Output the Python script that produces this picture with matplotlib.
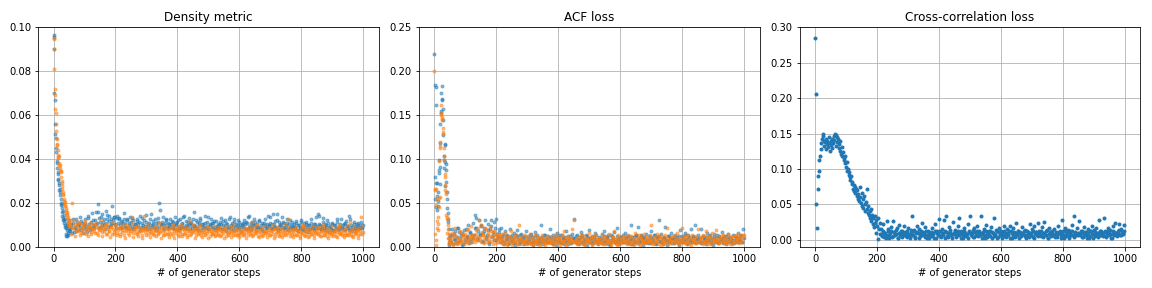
import matplotlib
matplotlib.use("Agg")
import matplotlib.pyplot as plt

# x positions (generator steps)
steps_early = list(range(0, 52))
steps_tail = list(range(52, 1000, 4))
steps_tail_b = list(range(54, 1000, 4))
cc_steps_early = list(range(0, 212, 2))
cc_steps_tail = list(range(212, 1000, 4))
cc_steps_tail_b = list(range(214, 1000, 4))

# ---------------- Density metric ----------------
density_blue_early = [
    .0965, .0958, .0900, .0700, .0668, .0560, .0515, .0495, .0430, .0452,
    .0390, .0360, .0380, .0340, .0330, .0310, .0305, .0290, .0280, .0260,
    .0250, .0262, .0235, .0220, .0200, .0190, .0175, .0195, .0160, .0140,
    .0165, .0130, .0120, .0145, .0110, .0120, .0100, .0090, .0125, .0085,
    .0060, .0050, .0110, .0048, .0095, .0075, .0055, .0100, .0065, .0088,
    .0070, .0120]
density_blue_tail = [
    .0080, .0105, .0062, .0125, .0090, .0070, .0115, .0098, .0135, .0075, .0110, .0085, .0128, .0095, .0068, .0140, .0102, .0088, .0155, .0120,
    .0095, .0160, .0110, .0195, .0130, .0085, .0150, .0115, .0100, .0165, .0125, .0090, .0140, .0105, .0185, .0120, .0135, .0098, .0142, .0110,
    .0130, .0088, .0118, .0102, .0155, .0092, .0125, .0080, .0110, .0136, .0095, .0120, .0085, .0105, .0128, .0090, .0115, .0078, .0132, .0100,
    .0120, .0088, .0145, .0095, .0110, .0082, .0150, .0105, .0092, .0125, .0078, .0115, .0199, .0168, .0098, .0135, .0088, .0110, .0120, .0085,
    .0105, .0128, .0090, .0115, .0082, .0138, .0098, .0112, .0075, .0125, .0092, .0108, .0140, .0085, .0118, .0095, .0130, .0080, .0112, .0100,
    .0158, .0095, .0120, .0085, .0110, .0132, .0078, .0105, .0092, .0140, .0088, .0115, .0080, .0102, .0125, .0090, .0108, .0075, .0118, .0095,
    .0085, .0112, .0130, .0080, .0098, .0120, .0072, .0105, .0090, .0138, .0082, .0110, .0095, .0125, .0078, .0100, .0088, .0115, .0070, .0102,
    .0095, .0120, .0082, .0108, .0135, .0090, .0075, .0112, .0098, .0128, .0085, .0105, .0092, .0118, .0080, .0110, .0072, .0100, .0125, .0088,
    .0140, .0095, .0138, .0082, .0150, .0105, .0090, .0120, .0078, .0112, .0098, .0135, .0085, .0108, .0092, .0125, .0075, .0102, .0088, .0115,
    .0080, .0105, .0092, .0118, .0070, .0098, .0085, .0122, .0078, .0108, .0090, .0112, .0068, .0100, .0082, .0128, .0095, .0075, .0105, .0088,
    .0150, .0140, .0098, .0082, .0112, .0075, .0105, .0090, .0120, .0068, .0095, .0080, .0108, .0072, .0100, .0085, .0115, .0078, .0092, .0128,
    .0088, .0105, .0075, .0118, .0095, .0140, .0082, .0100, .0070, .0112, .0090, .0078, .0105, .0085, .0098, .0115, .0092]
density_blue_tail_b = [
    .0072, .0095, .0110, .0068, .0088, .0125, .0078, .0102, .0090, .0118, .0065, .0098, .0108, .0082, .0130, .0092, .0075, .0112, .0100, .0085,
    .0120, .0105, .0160, .0090, .0112, .0135, .0098, .0125, .0082, .0108, .0145, .0118, .0095, .0128, .0110, .0138, .0102, .0088, .0132, .0125,
    .0098, .0115, .0085, .0128, .0108, .0092, .0120, .0100, .0088, .0112, .0132, .0082, .0105, .0095, .0118, .0102, .0140, .0090, .0110, .0085,
    .0095, .0112, .0080, .0105, .0128, .0090, .0100, .0118, .0085, .0108, .0095, .0132, .0088, .0102, .0115, .0082, .0098, .0125, .0092, .0108,
    .0090, .0102, .0118, .0085, .0098, .0110, .0080, .0122, .0095, .0088, .0105, .0135, .0092, .0100, .0082, .0115, .0098, .0108, .0088, .0125,
    .0100, .0088, .0112, .0078, .0098, .0120, .0090, .0102, .0085, .0110, .0095, .0138, .0082, .0098, .0108, .0088, .0118, .0092, .0080, .0105,
    .0098, .0088, .0105, .0118, .0082, .0095, .0110, .0085, .0128, .0092, .0100, .0078, .0112, .0090, .0105, .0120, .0085, .0098, .0092, .0108,
    .0088, .0102, .0115, .0080, .0140, .0095, .0108, .0085, .0098, .0112, .0078, .0092, .0120, .0088, .0100, .0082, .0110, .0095, .0085, .0105,
    .0098, .0110, .0085, .0102, .0092, .0118, .0088, .0148, .0095, .0082, .0105, .0090, .0112, .0080, .0098, .0108, .0085, .0120, .0092, .0100,
    .0092, .0085, .0110, .0078, .0100, .0088, .0115, .0082, .0095, .0072, .0105, .0088, .0098, .0080, .0110, .0092, .0085, .0102, .0135, .0095,
    .0088, .0102, .0080, .0095, .0130, .0085, .0098, .0078, .0110, .0090, .0082, .0105, .0075, .0098, .0088, .0125, .0080, .0092, .0102, .0085,
    .0098, .0080, .0110, .0088, .0095, .0075, .0128, .0090, .0082, .0102, .0085, .0095, .0110, .0080, .0092, .0088, .0100]

density_orange_early = [
    .0950, .0948, .0900, .0810, .0720, .0690, .0630, .0610, .0560, .0530,
    .0490, .0470, .0465, .0440, .0420, .0410, .0405, .0412, .0380, .0375,
    .0375, .0360, .0350, .0340, .0345, .0320, .0300, .0290, .0275, .0265,
    .0250, .0240, .0235, .0220, .0210, .0200, .0205, .0190, .0185, .0170,
    .0160, .0175, .0150, .0145, .0160, .0130, .0120, .0135, .0110, .0100,
    .0115, .0095]
density_orange_tail = [
    .0095, .0120, .0200, .0085, .0105, .0072, .0098, .0080, .0110, .0065, .0090, .0078, .0102, .0060, .0088, .0075, .0095, .0068, .0082, .0105,
    .0070, .0092, .0062, .0085, .0078, .0100, .0066, .0088, .0074, .0095, .0060, .0082, .0072, .0090, .0058, .0080, .0068, .0098, .0064, .0076,
    .0085, .0060, .0078, .0092, .0055, .0072, .0088, .0065, .0080, .0070, .0135, .0062, .0076, .0090, .0058, .0074, .0068, .0084, .0052, .0078,
    .0140, .0066, .0080, .0058, .0072, .0088, .0062, .0076, .0054, .0070, .0085, .0060, .0074, .0066, .0092, .0056, .0078, .0064, .0082, .0058,
    .0072, .0060, .0086, .0055, .0070, .0080, .0062, .0075, .0050, .0068, .0090, .0058, .0076, .0064, .0082, .0054, .0070, .0118, .0060, .0074,
    .0066, .0080, .0056, .0072, .0062, .0088, .0052, .0068, .0076, .0058, .0070, .0064, .0084, .0050, .0072, .0060, .0078, .0056, .0066, .0074,
    .0060, .0076, .0054, .0070, .0064, .0082, .0050, .0068, .0058, .0074, .0062, .0090, .0055, .0066, .0072, .0052, .0078, .0060, .0068, .0056,
    .0074, .0058, .0066, .0080, .0052, .0070, .0062, .0112, .0056, .0072, .0064, .0078, .0050, .0068, .0060, .0076, .0054, .0066, .0072, .0058,
    .0066, .0078, .0054, .0070, .0060, .0082, .0050, .0068, .0074, .0056, .0064, .0086, .0052, .0072, .0058, .0068, .0125, .0062, .0076, .0054,
    .0070, .0058, .0080, .0052, .0066, .0074, .0048, .0062, .0090, .0056, .0070, .0060, .0078, .0050, .0066, .0058, .0072, .0054, .0068, .0062,
    .0058, .0074, .0050, .0066, .0080, .0054, .0064, .0070, .0048, .0062, .0076, .0056, .0068, .0060, .0072, .0050, .0066, .0100, .0058, .0064,
    .0070, .0054, .0062, .0080, .0056, .0068, .0112, .0060, .0050, .0074, .0058, .0066, .0082, .0054, .0072, .0135, .0060]
density_orange_tail_b = [
    .0105, .0060, .0088, .0122, .0048, .0095, .0070, .0112, .0055, .0085, .0100, .0062, .0118, .0075, .0050, .0092, .0108, .0058, .0082, .0098,
    .0065, .0110, .0052, .0088, .0075, .0120, .0048, .0082, .0098, .0060, .0105, .0072, .0045, .0090, .0115, .0058, .0078, .0100, .0055, .0085,
    .0048, .0092, .0066, .0105, .0042, .0078, .0098, .0055, .0085, .0070, .0110, .0045, .0080, .0062, .0095, .0050, .0088, .0072, .0040, .0082,
    .0090, .0052, .0075, .0102, .0044, .0068, .0088, .0058, .0096, .0048, .0078, .0064, .0108, .0042, .0072, .0086, .0054, .0094, .0060, .0080,
    .0046, .0084, .0062, .0098, .0040, .0076, .0090, .0055, .0070, .0104, .0048, .0082, .0058, .0092, .0044, .0074, .0088, .0052, .0066, .0100,
    .0078, .0042, .0090, .0060, .0074, .0100, .0046, .0068, .0085, .0054, .0096, .0040, .0072, .0088, .0058, .0064, .0094, .0048, .0080, .0056,
    .0092, .0050, .0070, .0086, .0042, .0078, .0096, .0056, .0066, .0090, .0044, .0074, .0102, .0052, .0082, .0060, .0046, .0088, .0068, .0076,
    .0054, .0086, .0040, .0072, .0096, .0058, .0080, .0048, .0092, .0064, .0076, .0100, .0044, .0070, .0084, .0050, .0094, .0062, .0074, .0046,
    .0088, .0056, .0070, .0098, .0042, .0080, .0062, .0092, .0050, .0074, .0086, .0046, .0066, .0104, .0054, .0078, .0090, .0048, .0068, .0082,
    .0044, .0076, .0092, .0056, .0070, .0040, .0084, .0062, .0098, .0050, .0074, .0088, .0046, .0066, .0080, .0058, .0094, .0042, .0072, .0086,
    .0060, .0090, .0048, .0074, .0100, .0054, .0068, .0084, .0042, .0078, .0062, .0096, .0050, .0072, .0088, .0046, .0080, .0064, .0092, .0056,
    .0076, .0044, .0088, .0060, .0098, .0052, .0070, .0082, .0046, .0092, .0064, .0074, .0040, .0086, .0058, .0096, .0068]

# ---------------- ACF loss ----------------
acf_blue_early = [
    .220, .184, .055, .080, .182, .162, .045, .073, .073, .042,
    .058, .052, .062, .046, .084, .088, .099, .071, .091, .118,
    .140, .155, .152, .175, .167, .168, .183, .157, .145, .127,
    .099, .104, .090, .116, .097, .069, .117, .074, .094, .087,
    .063, .055, .044, .038, .032, .028, .004, .010, .002, .020,
    .007, .013]
acf_blue_tail = [
    .012, .020, .003, .015, .008, .021, .005, .017, .010, .002, .014, .019, .006, .011, .025, .004, .016, .009, .027, .013,
    .036, .022, .008, .030, .015, .024, .005, .018, .030, .011, .026, .003, .020, .030, .013, .008, .022, .032, .010, .017,
    .006, .021, .012, .003, .018, .009, .014, .004, .020, .011, .007, .016, .002, .013, .019, .008, .005, .015, .010, .003,
    .012, .018, .006, .009, .004, .015, .011, .002, .017, .008, .013, .005, .010, .025, .007, .003, .014, .009, .006, .012,
    .020, .008, .004, .013, .010, .002, .016, .007, .011, .005, .014, .009, .003, .018, .006, .012, .008, .004, .015, .010,
    .032, .006, .013, .009, .003, .017, .011, .005, .008, .014, .002, .010, .019, .006, .012, .004, .009, .016, .007, .003,
    .011, .005, .015, .008, .018, .004, .010, .013, .006, .002, .012, .009, .017, .005, .022, .008, .003, .011, .007, .014,
    .006, .016, .010, .004, .012, .008, .025, .003, .011, .007, .014, .023, .005, .009, .013, .002, .010, .006, .015, .008,
    .012, .004, .018, .009, .006, .013, .003, .011, .030, .007, .015, .005, .010, .023, .008, .002, .012, .006, .016, .009,
    .004, .014, .008, .011, .002, .019, .007, .012, .005, .016, .009, .003, .013, .008, .020, .006, .011, .025, .004, .010,
    .014, .007, .020, .005, .011, .009, .003, .016, .008, .012, .006, .010, .002, .015, .007, .013, .004, .011, .009, .017,
    .006, .012, .003, .010, .015, .007, .009, .004, .013, .008, .011, .005, .016, .009, .012, .006, .020]
acf_blue_tail_b = [
    .006, .014, .009, .018, .004, .011, .022, .007, .013, .016, .003, .009, .020, .012, .008, .017, .005, .014, .010, .021,
    .033, .010, .018, .013, .025, .007, .016, .021, .009, .014, .019, .006, .024, .011, .017, .028, .008, .015, .012, .020,
    .010, .007, .015, .005, .012, .009, .003, .011, .008, .014, .004, .010, .006, .012, .009, .003, .013, .007, .011, .005,
    .008, .004, .011, .007, .013, .005, .009, .006, .012, .003, .010, .007, .004, .011, .008, .013, .005, .009, .006, .010,
    .006, .011, .003, .009, .007, .012, .005, .008, .013, .004, .010, .006, .011, .008, .003, .009, .012, .006, .010, .007,
    .009, .012, .004, .008, .011, .006, .013, .003, .009, .007, .012, .005, .010, .008, .004, .011, .007, .013, .005, .009,
    .007, .010, .004, .012, .006, .009, .011, .003, .008, .013, .005, .010, .007, .004, .012, .009, .006, .011, .008, .005,
    .010, .007, .012, .005, .009, .003, .011, .008, .006, .013, .004, .010, .007, .012, .005, .009, .011, .006, .008, .004,
    .008, .011, .005, .009, .013, .004, .010, .007, .012, .006, .009, .003, .011, .008, .005, .012, .007, .010, .004, .009,
    .011, .006, .009, .004, .012, .008, .005, .010, .007, .013, .004, .009, .011, .006, .008, .012, .005, .010, .007, .009,
    .006, .010, .004, .012, .008, .005, .011, .007, .009, .013, .004, .008, .011, .006, .010, .005, .012, .007, .009, .004,
    .010, .007, .012, .005, .009, .011, .006, .008, .004, .012, .007, .010, .005, .009, .013, .006, .010]

acf_orange_early = [
    .200, .015, .066, .065, .048, .008, .066, .002, .055, .029,
    .021, .026, .019, .034, .045, .056, .098, .119, .115, .113,
    .057, .150, .153, .162, .146, .148, .144, .135, .128, .131,
    .113, .103, .099, .083, .080, .070, .065, .063, .060, .036,
    .034, .016, .032, .025, .010, .020, .006, .015, .003, .009,
    .012, .004]
acf_orange_tail = [
    .008, .016, .002, .012, .021, .006, .010, .004, .018, .009, .013, .003, .015, .007, .020, .011, .005, .024, .009, .014,
    .006, .019, .011, .030, .008, .025, .013, .004, .021, .010, .016, .007, .023, .012, .003, .018, .009, .014, .006, .011,
    .008, .013, .004, .010, .016, .006, .002, .012, .009, .018, .005, .011, .007, .014, .003, .025, .008, .010, .006, .013,
    .004, .009, .012, .006, .015, .003, .010, .007, .013, .005, .008, .011, .002, .009, .014, .006, .010, .004, .012, .007,
    .009, .005, .012, .003, .010, .015, .006, .008, .011, .004, .013, .007, .018, .002, .009, .012, .005, .010, .020, .006,
    .030, .008, .004, .011, .006, .014, .009, .003, .012, .007, .010, .005, .016, .008, .002, .011, .006, .013, .009, .004,
    .010, .006, .013, .003, .009, .012, .005, .008, .015, .004, .011, .007, .018, .009, .002, .013, .006, .010, .004, .012,
    .007, .011, .004, .014, .008, .003, .012, .006, .010, .016, .005, .009, .013, .002, .011, .007, .015, .004, .010, .008,
    .006, .013, .025, .009, .004, .011, .007, .015, .003, .010, .012, .005, .008, .014, .006, .022, .009, .004, .011, .007,
    .012, .005, .009, .016, .003, .010, .007, .022, .006, .011, .004, .013, .008, .010, .002, .014, .009, .006, .012, .005,
    .020, .008, .011, .004, .013, .007, .018, .009, .003, .012, .006, .016, .010, .005, .019, .008, .012, .004, .010, .007,
    .013, .006, .010, .004, .015, .008, .011, .003, .012, .007, .014, .009, .005, .013, .010, .006, .014]
acf_orange_tail_b = [
    .004, .010, .015, .006, .012, .003, .009, .017, .007, .013, .005, .011, .008, .019, .004, .010, .014, .006, .012, .009,
    .015, .008, .022, .011, .006, .017, .013, .009, .020, .005, .014, .010, .018, .007, .012, .016, .004, .013, .009, .015,
    .005, .009, .003, .007, .011, .004, .008, .006, .010, .002, .007, .012, .005, .009, .004, .008, .011, .003, .007, .006,
    .007, .003, .009, .005, .006, .010, .002, .008, .004, .007, .011, .003, .006, .009, .005, .008, .002, .007, .010, .004,
    .005, .008, .003, .007, .010, .004, .006, .009, .002, .008, .005, .007, .011, .003, .006, .009, .004, .008, .005, .007,
    .006, .009, .003, .007, .005, .010, .004, .008, .002, .006, .009, .005, .007, .011, .003, .008, .006, .004, .009, .005,
    .008, .004, .007, .010, .003, .006, .009, .005, .007, .002, .008, .011, .004, .006, .009, .003, .007, .010, .005, .008,
    .005, .009, .003, .007, .011, .004, .006, .008, .002, .010, .005, .007, .003, .009, .006, .004, .008, .011, .005, .007,
    .009, .004, .007, .003, .010, .006, .008, .005, .011, .002, .007, .009, .004, .006, .010, .003, .008, .005, .007, .012,
    .004, .008, .006, .010, .003, .007, .005, .009, .012, .004, .006, .008, .003, .010, .005, .007, .009, .004, .011, .006,
    .008, .005, .010, .003, .007, .012, .004, .009, .006, .011, .003, .008, .005, .010, .007, .004, .009, .006, .012, .005,
    .009, .004, .011, .006, .008, .003, .010, .007, .005, .012, .006, .009, .004, .011, .007, .010, .013]

# ---------------- Cross-correlation loss ----------------
cc_early = [
    .285, .206, .050, .017, .072, .090, .097, .112, .118, .128,
    .136, .142, .150, .147, .140, .133, .138, .143, .128, .135,
    .140, .131, .145, .137, .126, .134, .139, .130, .142, .136,
    .146, .141, .150, .133, .148, .145, .138, .143, .135, .130,
    .139, .126, .121, .131, .118, .124, .115, .112, .118, .108,
    .103, .110, .097, .100, .092, .095, .088, .085, .090, .079,
    .082, .072, .078, .069, .074, .066, .072, .062, .070, .058,
    .064, .055, .075, .060, .052, .066, .048, .057, .045, .062,
    .050, .041, .054, .072, .044, .038, .047, .035, .040, .031,
    .044, .027, .035, .022, .030, .018, .033, .024, .010, .028,
    .020, .001, .031, .015, .024, .008]
cc_tail = [
    .015, .005, .022, .010, .002, .027, .012, .007, .018, .004, .026, .011, .008, .016, .003, .021, .009, .013, .006, .019,
    .010, .004, .017, .008, .014, .033, .006, .012, .002, .020, .009, .015, .005, .023, .011, .007, .018, .003, .013, .009,
    .006, .016, .010, .003, .022, .012, .008, .029, .005, .015, .009, .028, .013, .033, .004, .018, .011, .007, .025, .010,
    .014, .005, .020, .030, .008, .012, .003, .017, .010, .006, .022, .013, .034, .009, .004, .016, .011, .007, .019, .012,
    .006, .034, .010, .015, .003, .021, .008, .013, .005, .018, .011, .030, .007, .014, .002, .017, .009, .012, .006, .020,
    .010, .004, .015, .008, .019, .012, .003, .016, .009, .024, .006, .013, .011, .005, .018, .008, .014, .002, .012, .007,
    .022, .009, .015, .004, .020, .011, .007, .023, .012, .005, .018, .010, .025, .006, .014, .003, .016, .009, .012, .006,
    .015, .008, .004, .019, .011, .006, .028, .013, .003, .017, .009, .014, .005, .012, .021, .007, .034, .010, .016, .006,
    .026, .009, .013, .004, .018, .011, .007, .015, .002, .012, .020, .008, .014, .005, .016, .010, .028, .006, .013, .009,
    .031, .012, .005, .017, .009, .014, .003, .019, .011, .024, .007, .013, .022, .006, .015, .009, .021]
cc_tail_b = [
    .008, .013, .004, .010, .006, .015, .002, .009, .012, .005, .011, .007, .014, .003, .010, .006, .013, .004, .009, .011,
    .005, .012, .007, .003, .010, .006, .014, .004, .009, .011, .002, .008, .013, .006, .010, .004, .012, .007, .003, .009,
    .011, .005, .008, .013, .003, .009, .006, .012, .004, .010, .007, .002, .011, .005, .009, .014, .006, .003, .008, .012,
    .004, .009, .012, .006, .002, .010, .007, .013, .005, .008, .003, .011, .006, .009, .014, .004, .007, .012, .005, .010,
    .008, .003, .011, .006, .013, .004, .009, .007, .012, .002, .010, .005, .008, .013, .004, .011, .006, .003, .009, .012,
    .005, .010, .007, .013, .003, .009, .006, .011, .004, .008, .012, .002, .010, .006, .009, .013, .005, .007, .011, .004,
    .009, .006, .012, .003, .008, .011, .005, .010, .007, .013, .004, .009, .006, .012, .002, .008, .011, .005, .010, .007,
    .004, .011, .007, .009, .013, .003, .008, .006, .012, .005, .010, .002, .009, .007, .013, .004, .011, .006, .008, .010,
    .006, .012, .004, .009, .007, .011, .003, .010, .005, .013, .008, .002, .011, .006, .009, .004, .012, .007, .010, .005,
    .011, .004, .009, .013, .006, .008, .003, .012, .007, .010, .005, .009, .014, .006, .011, .008, .012]

titles = ["Density metric", "ACF loss", "Cross-correlation loss"]
xlabel = "# of generator steps"

fig, axes = plt.subplots(1, 3, figsize=(16, 4), dpi=72)
fig.subplots_adjust(left=0.033, right=0.99, top=0.905, bottom=0.143, wspace=0.117)

x_main = steps_early + steps_tail + steps_tail_b
ax = axes[0]
ax.plot(x_main, density_blue_early + density_blue_tail + density_blue_tail_b,
        '.', color='C0', alpha=0.5)
ax.plot(x_main, density_orange_early + density_orange_tail + density_orange_tail_b,
        '.', color='C1', alpha=0.5)
ax.set_ylim(0, 0.1)

ax = axes[1]
ax.plot(x_main, acf_blue_early + acf_blue_tail + acf_blue_tail_b,
        '.', color='C0', alpha=0.5)
ax.plot(x_main, acf_orange_early + acf_orange_tail + acf_orange_tail_b,
        '.', color='C1', alpha=0.5)
ax.set_ylim(0, 0.25)

ax = axes[2]
ax.plot(cc_steps_early + cc_steps_tail + cc_steps_tail_b,
        cc_early + cc_tail + cc_tail_b, '.', color='C0')
ax.set_ylim(-0.01, 0.30)

for ax, t in zip(axes, titles):
    ax.set_title(t)
    ax.set_xlabel(xlabel)
    ax.set_xlim(-50, 1050)
    ax.grid(True)

fig.savefig("out.png", dpi=72)
